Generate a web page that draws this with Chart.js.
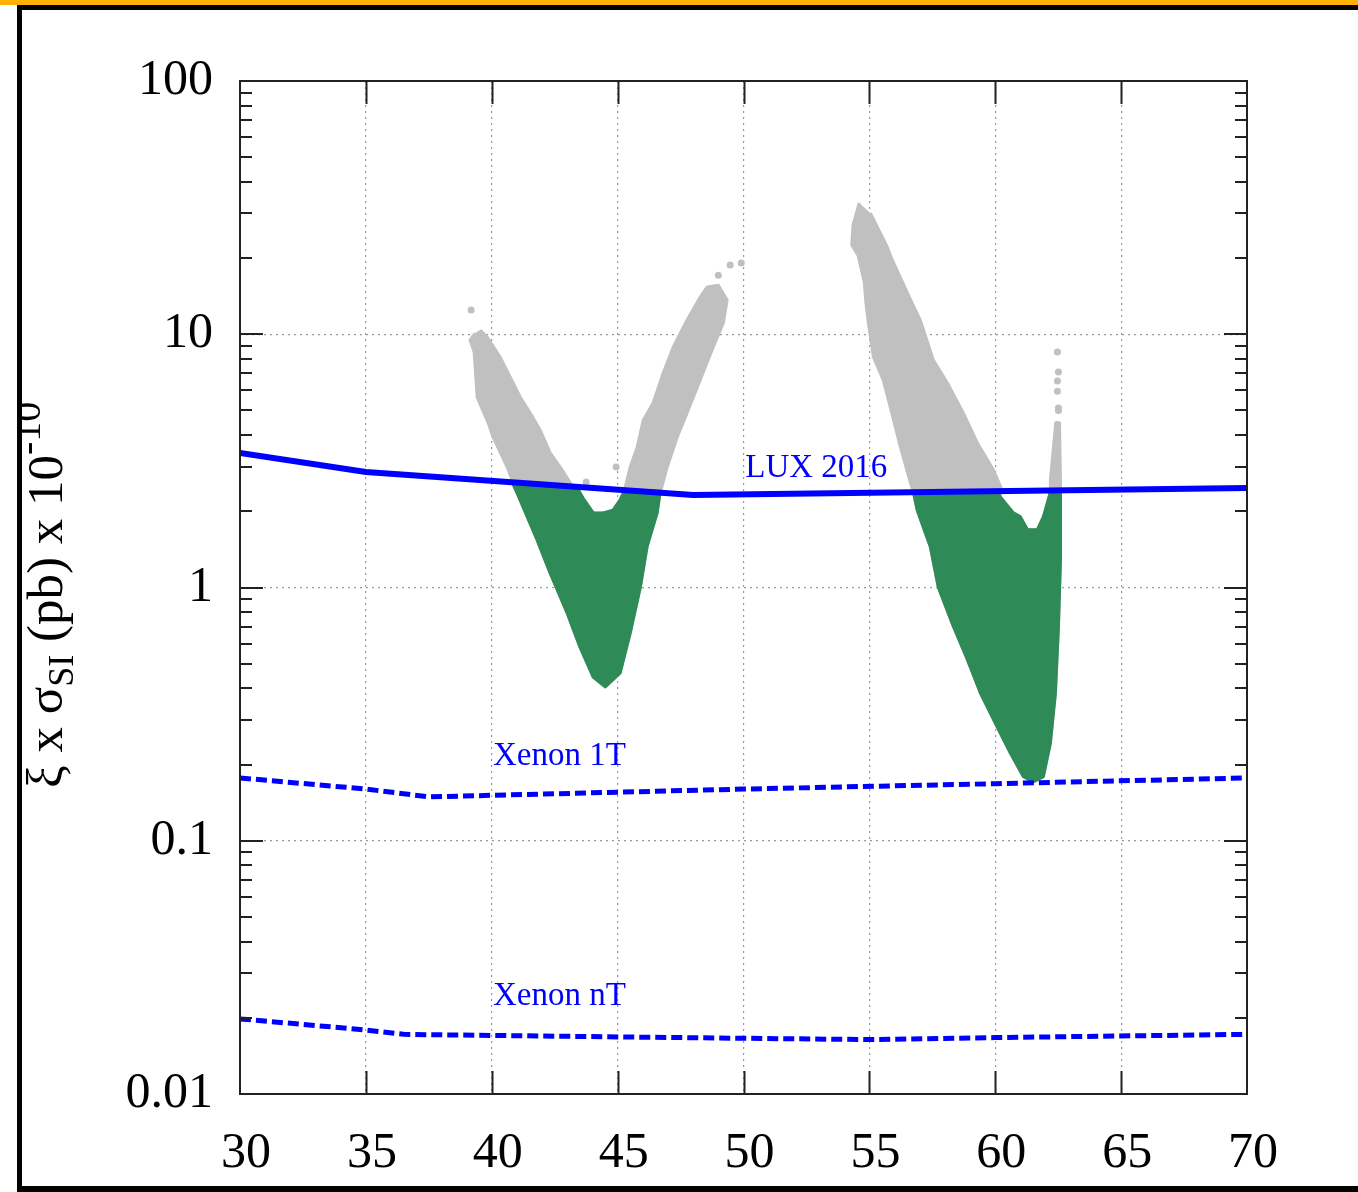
<!DOCTYPE html>
<html>
<head>
<meta charset="utf-8">
<title>xi x sigma_SI vs dark matter mass</title>
<script src="https://cdn.jsdelivr.net/npm/chart.js@4.4.1/dist/chart.umd.min.js"></script>
<style>
  html, body { margin: 0; padding: 0; background: #fff; }
  body { width: 1358px; height: 1192px; position: relative; overflow: hidden; }
  #chart { position: absolute; left: 0; top: 0; }
  .bar { position: absolute; left: 0; top: 0; width: 1358px; height: 5px; background: #ffb000; z-index: 2; }
  .frame { position: absolute; left: 17px; top: 5px; width: 1400px; height: 1187px; box-sizing: border-box;
           border-top: 5px solid #000; border-left: 5px solid #000; border-bottom: 6px solid #000; z-index: 2; pointer-events: none; }
</style>
</head>
<body>
<div class="bar"></div>
<div class="frame"></div>
<canvas id="chart" width="1358" height="1192"></canvas>
<script>
const massTicks = [30, 35, 40, 45, 50, 55, 60, 65, 70];
const sigmaTicks = [0.01, 0.1, 1, 10, 100];
const sigmaTickLabels = ['0.01', '0.1', '1', '10', '100'];

// experimental limits
const luxMass = [30, 35, 48, 70];
const luxSigma = [3.40, 2.86, 2.32, 2.47];
const xenon1tMass = [30, 35, 37.5, 50, 60, 70];
const xenon1tSigma = [0.177, 0.160, 0.149, 0.160, 0.168, 0.177];
const xenonNtMass = [30, 35, 36.5, 45, 55, 60, 70];
const xenonNtSigma = [0.0198, 0.0179, 0.0172, 0.0168, 0.0164, 0.0167, 0.0172];

// outlines of the scanned point clouds as [mass, sigma]
const leftCloudAll = [
  [39.34, 10.11], [39.14, 9.49], [39.30, 8.51], [39.42, 5.65], [39.86, 4.46], [40.05, 3.93],
  [40.61, 2.99], [40.81, 2.66], [41.01, 2.36], [41.80, 1.54], [42.32, 1.14], [43.00, 0.79],
  [43.51, 0.58], [44.03, 0.443], [44.51, 0.405], [45.10, 0.46], [45.50, 0.66], [45.90, 1.00],
  [46.17, 1.45], [46.57, 1.97], [46.69, 2.36], [46.97, 2.99], [47.37, 3.93], [47.76, 4.89],
  [48.28, 6.60], [48.80, 8.91], [49.20, 11.08], [49.35, 13.65], [49.00, 15.6], [48.56, 15.37],
  [48.28, 14.03], [47.76, 11.38], [47.21, 8.91], [46.81, 7.03], [46.41, 5.35], [46.02, 4.59],
  [45.78, 3.59], [45.50, 2.99], [45.30, 2.49], [45.10, 2.22], [44.82, 2.02], [44.43, 1.97],
  [44.03, 1.97], [43.63, 2.25], [43.39, 2.45], [43.23, 2.49], [42.72, 2.99], [42.32, 3.40],
  [41.92, 4.19], [41.53, 4.89], [41.13, 5.65], [40.73, 6.78], [40.33, 8.13], [39.82, 9.75],
  [39.54, 10.39]
];
const leftCloudAllowed = [
  [40.85, 2.55], [41.01, 2.36], [41.80, 1.54], [42.32, 1.14], [43.00, 0.79], [43.51, 0.58],
  [44.03, 0.443], [44.51, 0.405], [45.10, 0.46], [45.50, 0.66], [45.90, 1.00], [46.17, 1.45],
  [46.57, 1.97], [46.69, 2.40], [45.30, 2.42], [45.10, 2.22], [44.82, 2.02], [44.43, 1.97],
  [44.03, 1.97], [43.63, 2.25], [43.39, 2.48]
];
const rightCloudAll = [
  [54.60, 33.0], [54.35, 27.0], [54.30, 22.5], [54.55, 20.5], [54.80, 16.0], [54.86, 13.41],
  [54.96, 11.08], [55.16, 8.13], [55.55, 6.60], [55.83, 5.16], [56.23, 3.59], [56.63, 2.59],
  [56.75, 2.38], [56.90, 2.02], [57.42, 1.45], [57.74, 1.00], [58.34, 0.70], [58.89, 0.52],
  [59.41, 0.383], [60.08, 0.281], [60.60, 0.222], [61.12, 0.179], [61.52, 0.171], [61.91, 0.179],
  [62.19, 0.243], [62.39, 0.383], [62.51, 0.70], [62.59, 1.28], [62.59, 2.38], [62.59, 2.66],
  [62.55, 4.46], [62.40, 4.46], [62.19, 2.66], [62.19, 2.38], [62.07, 2.16], [61.91, 1.90],
  [61.67, 1.69], [61.28, 1.69], [61.00, 1.90], [60.72, 1.97], [60.20, 2.28], [60.25, 2.45],
  [59.93, 2.91], [59.29, 3.72], [58.73, 4.89], [58.10, 6.42], [57.54, 7.91], [57.02, 11.38],
  [56.51, 14.55], [55.91, 19.65], [55.71, 22.1], [55.04, 30.1]
];
const rightCloudAllowed = [
  [56.75, 2.38], [56.90, 2.02], [57.42, 1.45], [57.74, 1.00], [58.34, 0.70], [58.89, 0.52],
  [59.41, 0.383], [60.08, 0.281], [60.60, 0.222], [61.12, 0.179], [61.52, 0.171], [61.91, 0.179],
  [62.19, 0.243], [62.39, 0.383], [62.51, 0.70], [62.59, 1.28], [62.59, 2.38], [62.19, 2.38],
  [62.07, 2.16], [61.91, 1.90], [61.67, 1.69], [61.28, 1.69], [61.00, 1.90], [60.72, 1.97],
  [60.20, 2.28], [60.08, 2.38]
];
const strayPoints = [
  [39.18, 12.46], [49.91, 19.11], [49.47, 18.77], [49.00, 17.1], [44.94, 2.99], [43.75, 2.61],
  [62.47, 8.51], [62.51, 7.09], [62.47, 6.54], [62.47, 5.95], [62.51, 5.11], [62.51, 5.00], [62.47, 4.40]
];

const curveLabels = ['LUX 2016', 'Xenon 1T', 'Xenon nT'];
const curveLabelMass = [50.07, 40.05, 40.05];
const curveLabelSigma = [2.73, 0.199, 0.0225];

const GREY = '#c0c0c0';
const GREEN = '#2e8b57';
const BLUE = '#0000ff';
const SERIF = "'Liberation Serif', 'Times New Roman', serif";

const toPoints = arr => arr.map(p => ({ x: p[0], y: p[1] }));
const zip = (xs, ys) => xs.map((x, i) => ({ x: x, y: ys[i] }));

function cloud(points, color, order) {
  return {
    data: toPoints(points),
    showLine: true,
    fill: 'shape',
    backgroundColor: color,
    borderColor: color,
    borderWidth: 3,
    borderJoinStyle: 'round',
    pointRadius: 0,
    tension: 0,
    order: order
  };
}

function limit(xs, ys, dash) {
  return {
    data: zip(xs, ys),
    showLine: true,
    fill: false,
    borderColor: BLUE,
    borderWidth: dash ? 5 : 6,
    borderDash: dash || [],
    pointRadius: 0,
    tension: 0,
    order: 0
  };
}

const axisDecor = {
  id: 'axisDecor',
  afterDraw(chart) {
    const { ctx, chartArea: a, scales: { x, y } } = chart;
    ctx.save();
    ctx.strokeStyle = '#222';
    ctx.lineWidth = 2;
    ctx.beginPath();
    massTicks.slice(1, -1).forEach(m => {
      const px = Math.round(x.getPixelForValue(m)) + 0.5;
      ctx.moveTo(px, a.bottom); ctx.lineTo(px, a.bottom - 23);
      ctx.moveTo(px, a.top); ctx.lineTo(px, a.top + 23);
    });
    sigmaTicks.forEach((d, i) => {
      if (i > 0 && i < sigmaTicks.length - 1) {
        const py = Math.round(y.getPixelForValue(d));
        ctx.moveTo(a.left, py); ctx.lineTo(a.left + 23, py);
        ctx.moveTo(a.right, py); ctx.lineTo(a.right - 23, py);
      }
      if (i < sigmaTicks.length - 1) {
        for (let k = 2; k <= 9; k++) {
          const py = Math.round(y.getPixelForValue(d * k));
          ctx.moveTo(a.left, py); ctx.lineTo(a.left + 12, py);
          ctx.moveTo(a.right, py); ctx.lineTo(a.right - 12, py);
        }
      }
    });
    ctx.stroke();
    ctx.strokeRect(a.left, a.top, a.width, a.height);

    // curve labels
    ctx.fillStyle = BLUE;
    ctx.font = '33px ' + SERIF;
    ctx.textBaseline = 'alphabetic';
    ctx.textAlign = 'left';
    curveLabels.forEach((t, i) => {
      ctx.fillText(t, x.getPixelForValue(curveLabelMass[i]), y.getPixelForValue(curveLabelSigma[i]));
    });

    // rotated y-axis title with sub/superscript; the frame cuts the superscript
    ctx.beginPath();
    ctx.rect(22, 0, 300, 1192);
    ctx.clip();
    ctx.fillStyle = '#000';
    ctx.translate(62, 788);
    ctx.rotate(-Math.PI / 2);
    const parts = [
      { text: 'ξ x σ', size: 51, shift: 0 },
      { text: 'SI', size: 36, shift: 11 },
      { text: ' (pb) x 10', size: 51, shift: 0 },
      { text: '-10', size: 40, shift: -22 }
    ];
    let cx = 0;
    parts.forEach(p => {
      ctx.font = p.size + 'px ' + SERIF;
      ctx.fillText(p.text, cx, p.shift);
      cx += ctx.measureText(p.text).width;
    });
    ctx.restore();
  }
};

new Chart(document.getElementById('chart').getContext('2d'), {
  type: 'scatter',
  data: {
    datasets: [
      limit(luxMass, luxSigma, null),
      limit(xenon1tMass, xenon1tSigma, [11, 5]),
      limit(xenonNtMass, xenonNtSigma, [11, 5]),
      cloud(leftCloudAllowed, GREEN, 1),
      cloud(rightCloudAllowed, GREEN, 1),
      cloud(leftCloudAll, GREY, 2),
      cloud(rightCloudAll, GREY, 2),
      {
        data: toPoints(strayPoints),
        pointRadius: 3.5,
        pointBackgroundColor: GREY,
        pointBorderWidth: 0,
        order: 2
      }
    ]
  },
  options: {
    responsive: false,
    animation: false,
    devicePixelRatio: 1,
    layout: { padding: { left: 0, top: 81, right: 111, bottom: 0 } },
    plugins: { legend: { display: false }, tooltip: { enabled: false } },
    scales: {
      x: {
        type: 'linear',
        min: 30,
        max: 70,
        afterBuildTicks: s => { s.ticks = massTicks.map(v => ({ value: v })); },
        afterFit: s => { s.height = 98; },
        ticks: { font: { family: SERIF, size: 50 }, color: '#000', padding: 30, labelOffset: 6, maxRotation: 0, autoSkip: false },
        grid: {
          drawTicks: false,
          color: c => (c.tick && (c.tick.value === 30 || c.tick.value === 70)) ? 'rgba(0,0,0,0)' : '#999',
          lineWidth: 1.2
        },
        border: { display: false, dash: [2, 4] }
      },
      y: {
        type: 'logarithmic',
        min: 0.01,
        max: 100,
        afterBuildTicks: s => { s.ticks = sigmaTicks.map(v => ({ value: v })); },
        afterFit: s => { s.width = 240; },
        ticks: {
          font: { family: SERIF, size: 50 },
          color: '#000',
          padding: 27,
          autoSkip: false,
          callback: v => sigmaTickLabels[sigmaTicks.indexOf(v)]
        },
        grid: {
          drawTicks: false,
          color: c => (c.tick && (c.tick.value === 0.01 || c.tick.value === 100)) ? 'rgba(0,0,0,0)' : '#999',
          lineWidth: 1.2
        },
        border: { display: false, dash: [2, 4] }
      }
    }
  },
  plugins: [axisDecor]
});
</script>
</body>
</html>
